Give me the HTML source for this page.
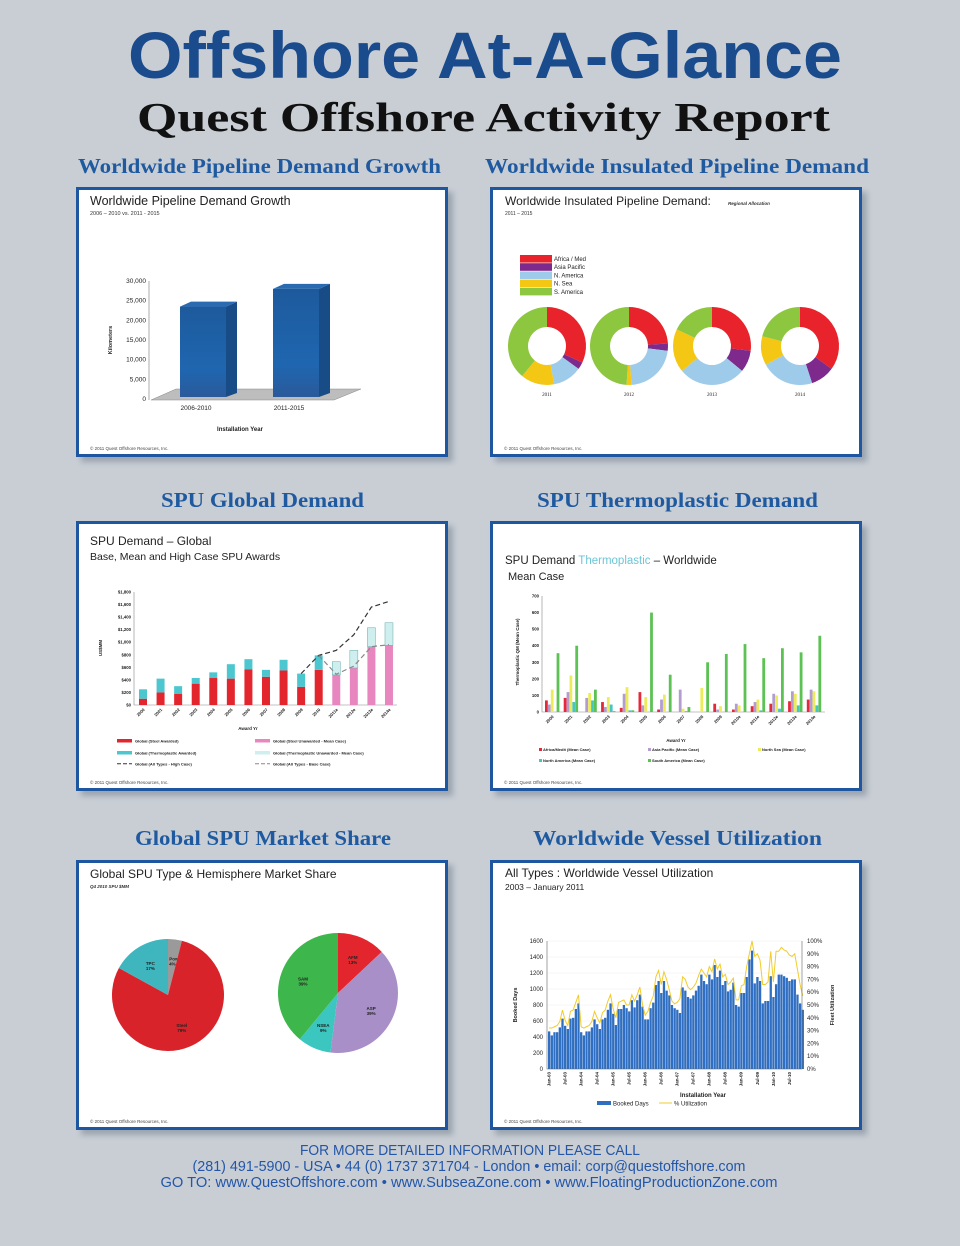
<!DOCTYPE html>
<html><head><meta charset="utf-8"><title>Offshore At-A-Glance</title>
<style>html,body{margin:0;padding:0;background:#c9ced5;}svg{display:block;}</style></head>
<body>
<svg id="page" xmlns="http://www.w3.org/2000/svg" width="960" height="1246" viewBox="0 0 960 1246" font-family="Liberation Sans, sans-serif">
<defs>
<linearGradient id="barBlue" x1="0" y1="0" x2="0" y2="1"><stop offset="0" stop-color="#1d5a9c"/><stop offset="0.7" stop-color="#1f66b0"/><stop offset="1" stop-color="#2a5a9a"/></linearGradient>
<filter id="sh" x="-5%" y="-5%" width="110%" height="110%"><feGaussianBlur stdDeviation="3"/></filter>
</defs>
<rect width="960" height="1246" fill="#c9ced5"/>
<text x="128" y="78" font-size="66" font-weight="bold" fill="#1a4b8c" textLength="714" lengthAdjust="spacingAndGlyphs">Offshore At-A-Glance</text>
<text x="137" y="131" font-family="Liberation Serif, serif" font-size="41" font-weight="bold" fill="#111" textLength="693" lengthAdjust="spacingAndGlyphs">Quest Offshore Activity Report</text>

<g font-family="Liberation Serif, serif" font-weight="bold" fill="#1f5aa0" font-size="21">
<text x="78" y="173" textLength="363" lengthAdjust="spacingAndGlyphs">Worldwide Pipeline Demand Growth</text>
<text x="485" y="173" textLength="384" lengthAdjust="spacingAndGlyphs">Worldwide Insulated Pipeline Demand</text>
<text x="161" y="507" textLength="203" lengthAdjust="spacingAndGlyphs">SPU Global Demand</text>
<text x="537" y="507" textLength="281" lengthAdjust="spacingAndGlyphs">SPU Thermoplastic Demand</text>
<text x="135" y="845" textLength="256" lengthAdjust="spacingAndGlyphs">Global SPU Market Share</text>
<text x="533" y="845" textLength="289" lengthAdjust="spacingAndGlyphs">Worldwide Vessel Utilization</text>
</g>

<g id="panels"></g>
<g id="charts" font-family="Liberation Sans, sans-serif"></g>

<g fill="#2356a8" font-size="14.5" text-anchor="middle">
<text x="470" y="1155" textLength="340" lengthAdjust="spacingAndGlyphs">FOR MORE DETAILED INFORMATION PLEASE CALL</text>
<text x="469" y="1171" textLength="553" lengthAdjust="spacingAndGlyphs">(281) 491-5900 - USA  •  44 (0) 1737 371704 - London  •  email: corp@questoffshore.com</text>
<text x="469" y="1187" textLength="617" lengthAdjust="spacingAndGlyphs">GO TO:  www.QuestOffshore.com •  www.SubseaZone.com  •  www.FloatingProductionZone.com</text>
</g>
</svg>
<script>
// ---------- DATA ----------
const pipeCats = ['2006-2010', '2011-2015'];
const pipeVals = [23500, 28000];
const pipeTicks = [0, 5000, 10000, 15000, 20000, 25000, 30000];

const donutYears = ['2011', '2012', '2013', '2014'];
const donutRegions = ['Africa / Med', 'Asia Pacific', 'N. America', 'N. Sea', 'S. America'];
const donut2011 = [32, 3, 12, 14, 39];
const donut2012 = [24, 3, 22, 2, 49];
const donut2013 = [27, 9, 28, 18, 18];
const donut2014 = [35, 10, 22, 12, 21];

const spuCats = ['2000','2001','2002','2003','2004','2005','2006','2007','2008','2009','2010','2011e','2012e','2013e','2014e'];
const spuSteel = [100, 200, 180, 340, 430, 420, 570, 450, 550, 290, 560, 0, 0, 0, 0];
const spuThermo = [150, 220, 120, 90, 90, 230, 160, 110, 170, 210, 230, 0, 0, 0, 0];
const spuSteelUn = [0, 0, 0, 0, 0, 0, 0, 0, 0, 0, 0, 480, 590, 930, 950];
const spuThermoUn = [0, 0, 0, 0, 0, 0, 0, 0, 0, 0, 0, 210, 280, 300, 360];
const spuHigh = [null, null, null, null, null, null, null, null, null, 500, 790, 870, 1120, 1560, 1650];
const spuBase = [null, null, null, null, null, null, null, null, null, null, 790, 490, 620, 930, 960];
const spuTicks = [0, 200, 400, 600, 800, 1000, 1200, 1400, 1600, 1800];

const tpCats = ['2000','2001','2002','2003','2004','2005','2006','2007','2008','2009','2010e','2011e','2012e','2013e','2014e'];
const tpAfrica = [70, 85, 0, 60, 25, 120, 15, 0, 0, 50, 15, 35, 50, 65, 75];
const tpAsia = [45, 120, 85, 30, 110, 40, 75, 135, 0, 15, 50, 60, 110, 125, 135];
const tpNSea = [135, 220, 115, 90, 150, 90, 105, 20, 145, 35, 40, 75, 100, 110, 125];
const tpNAm = [0, 60, 70, 45, 10, 0, 0, 5, 0, 0, 0, 10, 20, 40, 40];
const tpSAm = [355, 400, 135, 5, 10, 600, 225, 30, 300, 350, 410, 325, 385, 360, 460];
const tpTicks = [0, 100, 200, 300, 400, 500, 600, 700];

const typeLabels = ['SS Power', 'Steel', 'TPC'];
const typeShares = [4, 79, 17];
const hemiLabels = ['AFM', 'ASP', 'NSEA', 'SAM'];
const hemiShares = [13, 39, 9, 39];

const vesselLabels = ['Jan-03','Jul-03','Jan-04','Jul-04','Jan-05','Jul-05','Jan-06','Jul-06','Jan-07','Jul-07','Jan-08','Jul-08','Jan-09','Jul-09','Jan-10','Jul-10'];
const bookedDays = [
 470,420,460,460,520,630,540,500,630,640,750,820,
 460,420,470,470,520,620,560,500,620,640,740,820,
 690,550,750,750,800,760,720,860,770,860,930,780,
 620,620,760,830,1050,1100,950,1100,980,920,800,760,
 740,700,1020,980,900,880,920,980,1040,1180,1100,1060,
 1180,1120,1300,1150,1230,1050,1100,970,990,1080,800,780,
 950,950,1150,1370,1480,1070,1150,1100,820,850,850,1160,
 900,1060,1180,1180,1160,1140,1100,1120,1120,930,820,740];
const utilization = [
 32,32,33,34,37,46,38,34,45,46,52,58,
 33,32,33,34,37,45,40,36,44,46,53,58,
 47,40,52,53,54,50,50,58,53,58,64,50,
 42,45,52,57,72,77,66,76,70,62,53,51,
 52,55,72,70,64,62,64,67,73,78,75,72,
 80,76,86,78,82,72,74,66,68,71,54,54,
 65,66,80,90,100,88,90,85,66,66,68,92,
 68,92,92,95,93,92,89,88,90,78,66,57];
const vesselTicks = [0, 200, 400, 600, 800, 1000, 1200, 1400, 1600];
const utilTicks = [0, 10, 20, 30, 40, 50, 60, 70, 80, 90, 100];

// ---------- HELPERS ----------
const NS = 'http://www.w3.org/2000/svg';
function mk(parent, tag, attrs, txt) {
  const el = document.createElementNS(NS, tag);
  for (const k in attrs) el.setAttribute(k, attrs[k]);
  if (txt !== undefined) el.textContent = txt;
  parent.appendChild(el);
  return el;
}
const P = document.getElementById('panels');
const C = document.getElementById('charts');
function fmt(n) { return n.toString().replace(/\B(?=(\d{3})+(?!\d))/g, ','); }
function arcPath(cx, cy, r0, r1, a0, a1) {
  const rad = a => (a - 90) * Math.PI / 180;
  const large = (a1 - a0) > 180 ? 1 : 0;
  const p = (r, a) => [cx + r * Math.cos(rad(a)), cy + r * Math.sin(rad(a))];
  const [x1, y1] = p(r1, a0), [x2, y2] = p(r1, a1);
  if (r0 === 0) return `M${cx},${cy}L${x1},${y1}A${r1},${r1} 0 ${large} 1 ${x2},${y2}Z`;
  const [x3, y3] = p(r0, a1), [x4, y4] = p(r0, a0);
  return `M${x1},${y1}A${r1},${r1} 0 ${large} 1 ${x2},${y2}L${x3},${y3}A${r0},${r0} 0 ${large} 0 ${x4},${y4}Z`;
}

// ---------- PANELS ----------
const panelBoxes = [[76,187,'pipeline'],[490,187,'insulated'],[76,521,'spu-global'],[490,521,'spu-thermo'],[76,860,'market-share'],[490,860,'vessel']];
panelBoxes.forEach(b => {
  let s = mk(P, 'rect', {x: b[0]+5, y: b[1]+5, width: 372, height: 270, fill: '#7d8896', opacity: 0.6, filter: 'url(#sh)'});
  
  
  let r = mk(P, 'rect', {x: b[0]+1.5, y: b[1]+1.5, width: 369, height: 267, fill: '#fff', stroke: '#1e56a0', 'stroke-width': 3});
  
  
  let c = mk(C, 'text', {x: b[0]+14, y: b[1]+263, 'font-size': 4.5, fill: '#444'}, '© 2011 Quest Offshore Resources, Inc.');
  
  
});

// ---------- CHART 1: PIPELINE ----------
(function(){
  const g = mk(C, 'g', {});
  
  
  let t = mk(g, 'text', {x: 90, y: 205, 'font-size': 12.5, fill: '#222'}, 'Worldwide Pipeline Demand Growth');
  
  
  t = mk(g, 'text', {x: 90, y: 215, 'font-size': 5.5, fill: '#333'}, '2006 – 2010 vs. 2011 - 2015');
  
  
  const y = v => 399 - v / 30000 * 118;
  let fl = mk(g, 'polygon', {points: '151,400 334,400 361,389 176,389', fill: '#bdbdbd', stroke: '#888', 'stroke-width': 0.5});
  
  
  let ax = mk(g, 'line', {x1: 149, y1: 281, x2: 149, y2: 400, stroke: '#888', 'stroke-width': 0.7});
  
  
  pipeTicks.forEach(v => {
    let tl = mk(g, 'text', {x: 146, y: y(v) + 2, 'font-size': 6.5, 'text-anchor': 'end', fill: '#222'}, fmt(v));
    
    
  });
  const centers = [203, 296];
  pipeCats.forEach((c, i) => {
    const x0 = centers[i] - 23, x1 = centers[i] + 23, top = y(pipeVals[i]), bot = 397;
    let side = mk(g, 'polygon', {points: `${x1},${bot} ${x1+11},${bot-4} ${x1+11},${top-5} ${x1},${top}`, fill: '#174c86'});
    
    
    let tp = mk(g, 'polygon', {points: `${x0},${top} ${x0+11},${top-5} ${x1+11},${top-5} ${x1},${top}`, fill: '#2a6ab0'});
    
    
    let b = mk(g, 'rect', {x: x0, y: top, width: 46, height: bot - top, fill: 'url(#barBlue)'});
    
    
    let l = mk(g, 'text', {x: centers[i] - 7, y: 410, 'font-size': 6.5, 'text-anchor': 'middle', fill: '#222'}, c);
    
    
  });
  let xt = mk(g, 'text', {x: 240, y: 431, 'font-size': 6, 'font-weight': 'bold', 'text-anchor': 'middle', fill: '#222'}, 'Installation Year');
  
  
  let yt = mk(g, 'text', {x: 0, y: 0, 'font-size': 5.5, 'font-weight': 'bold', 'text-anchor': 'middle', fill: '#222', transform: 'translate(112,340) rotate(-90)'}, 'Kilometers');
  
  
})();

// ---------- CHART 2: DONUTS ----------
(function(){
  const g = mk(C, 'g', {});
  
  
  let t = mk(g, 'text', {x: 505, y: 205, 'font-size': 12, fill: '#222'}, 'Worldwide Insulated Pipeline Demand:');
  
  
  t = mk(g, 'text', {x: 728, y: 205, 'font-size': 4.5, 'font-style': 'italic', 'font-weight': 'bold', fill: '#333'}, 'Regional Allocation');
  
  
  t = mk(g, 'text', {x: 505, y: 215, 'font-size': 5, fill: '#333'}, '2011 – 2015');
  
  
  const cols = ['#e8232b', '#7d2a8c', '#9fcbeb', '#f5c715', '#8dc63f'];
  donutRegions.forEach((r, i) => {
    let s = mk(g, 'rect', {x: 520, y: 255 + i * 8.2, width: 32, height: 7.6, fill: cols[i]});
    
    
    let l = mk(g, 'text', {x: 554, y: 261 + i * 8.2, 'font-size': 6, fill: '#222'}, r);
    
    
  });
  const sets = [donut2011, donut2012, donut2013, donut2014];
  const cxs = [547, 629, 712, 800];
  sets.forEach((vals, j) => {
    const tot = vals.reduce((a, b) => a + b, 0);
    let a = 0;
    vals.forEach((v, i) => {
      const a1 = a + v / tot * 360;
      if (v > 0) {
        let p = mk(g, 'path', {d: arcPath(cxs[j], 346, 19, 39, a, a1 - 0.01), fill: cols[i]});
        
        
      }
      a = a1;
    });
    let l = mk(g, 'text', {x: cxs[j], y: 396, 'font-size': 5, 'font-family': 'Liberation Serif, serif', 'text-anchor': 'middle', fill: '#222'}, donutYears[j]);
    
    
  });
})();

// ---------- CHART 3: SPU GLOBAL ----------
(function(){
  const g = mk(C, 'g', {});
  
  
  let t = mk(g, 'text', {x: 90, y: 545, 'font-size': 12, fill: '#222'}, 'SPU Demand – Global');
  
  
  t = mk(g, 'text', {x: 90, y: 560, 'font-size': 10.5, fill: '#222'}, 'Base, Mean and High Case SPU Awards');
  
  
  const y = v => 705 - v / 1800 * 113;
  const x = i => 143 + i * 17.57;
  let ax = mk(g, 'polyline', {points: '134,592 134,705 397,705', fill: 'none', stroke: '#888', 'stroke-width': 0.6});
  
  
  spuTicks.forEach(v => {
    let l = mk(g, 'text', {x: 131, y: y(v) + 1.5, 'font-size': 4.3, 'font-weight': 'bold', 'text-anchor': 'end', fill: '#222'}, '$' + fmt(v));
    
    
  });
  spuCats.forEach((c, i) => {
    const w = 8, x0 = x(i) - w / 2;
    const s = spuSteel[i] + spuSteelUn[i];
    const th = spuThermo[i] + spuThermoUn[i];
    if (spuSteel[i]) { let b = mk(g, 'rect', {x: x0, y: y(spuSteel[i]), width: w, height: y(0) - y(spuSteel[i]), fill: '#e3262e'});   }
    if (spuSteelUn[i]) { let b = mk(g, 'rect', {x: x0, y: y(spuSteelUn[i]), width: w, height: y(0) - y(spuSteelUn[i]), fill: '#e887bf'});   }
    if (spuThermo[i]) { let b = mk(g, 'rect', {x: x0, y: y(s + spuThermo[i]), width: w, height: y(s) - y(s + spuThermo[i]), fill: '#4cc6cf'});   }
    if (spuThermoUn[i]) { let b = mk(g, 'rect', {x: x0, y: y(s + spuThermoUn[i]), width: w, height: y(s) - y(s + spuThermoUn[i]), fill: '#cfeeee', stroke: '#6aa', 'stroke-width': 0.5});   }
    let l = mk(g, 'text', {x: 0, y: 0, 'font-size': 4.2, 'font-weight': 'bold', 'text-anchor': 'end', fill: '#222', transform: `translate(${x(i) + 2},${710}) rotate(-45)`}, c);
    
    
  });
  function line(arr, col, name) {
    const pts = [];
    arr.forEach((v, i) => { if (v !== null) pts.push(x(i) + ',' + y(v)); });
    let p = mk(g, 'polyline', {points: pts.join(' '), fill: 'none', stroke: col, 'stroke-width': 1.2, 'stroke-dasharray': '5,3'});
    
    
  }
  line(spuHigh, '#333', 'line-high-case');
  line(spuBase, '#888', 'line-base-case');
  let xt = mk(g, 'text', {x: 248, y: 730, 'font-size': 4.5, 'font-weight': 'bold', 'text-anchor': 'middle', fill: '#222'}, 'Award Yr');
  
  
  let yt = mk(g, 'text', {x: 0, y: 0, 'font-size': 4.5, 'font-weight': 'bold', 'text-anchor': 'middle', fill: '#222', transform: 'translate(102,648) rotate(-90)'}, 'US$MM');
  
  
  const leg = [[117,742,'#e3262e','Global (Steel Awarded)','r'],[255,742,'#e887bf','Global (Steel Unawarded - Mean Case)','r'],[117,754,'#4cc6cf','Global (Thermoplastic Awarded)','r'],[255,754,'#cfeeee','Global (Thermoplastic Unawarded - Mean Case)','r'],[117,765,'#333','Global (All Types - High Case)','l'],[255,765,'#888','Global (All Types - Base Case)','l']];
  leg.forEach(L => {
    let s = L[4] === 'r' ? mk(g, 'rect', {x: L[0], y: L[1] - 3, width: 15, height: 3.5, fill: L[2]}) : mk(g, 'line', {x1: L[0], y1: L[1] - 1.3, x2: L[0] + 15, y2: L[1] - 1.3, stroke: L[2], 'stroke-dasharray': '4,2'});
    
    
    let l = mk(g, 'text', {x: L[0] + 18, y: L[1] + 0.5, 'font-size': 4, 'font-weight': 'bold', fill: '#222'}, L[3]);
    
    
  });
})();

// ---------- CHART 4: THERMOPLASTIC ----------
(function(){
  const g = mk(C, 'g', {});
  
  
  let t = mk(g, 'text', {x: 505, y: 564, 'font-size': 11.5, fill: '#222'});
  
  
  mk(t, 'tspan', {}, 'SPU Demand ');
  mk(t, 'tspan', {fill: '#6cc6d6'}, 'Thermoplastic');
  mk(t, 'tspan', {}, ' – Worldwide');
  t = mk(g, 'text', {x: 508, y: 580, 'font-size': 11, fill: '#222'}, 'Mean Case');
  
  
  const y = v => 712 - v / 700 * 116;
  const gx = i => 545 + i * 18.7;
  let ax = mk(g, 'polyline', {points: '542,596 542,712 825,712', fill: 'none', stroke: '#888', 'stroke-width': 0.6});
  
  
  tpTicks.forEach(v => {
    let l = mk(g, 'text', {x: 539, y: y(v) + 1.5, 'font-size': 4.3, 'font-weight': 'bold', 'text-anchor': 'end', fill: '#222'}, v);
    
    
  });
  const series = [tpAfrica, tpAsia, tpNSea, tpNAm, tpSAm];
  const cols = ['#e5283a', '#b39dd0', '#ecec5a', '#46c5c4', '#5dc254'];
  const names = ['africa', 'asia', 'north-sea', 'north-america', 'south-america'];
  tpCats.forEach((c, i) => {
    series.forEach((s, k) => {
      if (s[i] > 0) {
        let b = mk(g, 'rect', {x: gx(i) + k * 2.9, y: y(s[i]), width: 2.8, height: y(0) - y(s[i]), fill: cols[k]});
        
        
      }
    });
    let l = mk(g, 'text', {x: 0, y: 0, 'font-size': 4.2, 'font-weight': 'bold', 'text-anchor': 'end', fill: '#222', transform: `translate(${gx(i) + 9},${717}) rotate(-45)`}, c);
    
    
  });
  let xt = mk(g, 'text', {x: 676, y: 742, 'font-size': 4.5, 'font-weight': 'bold', 'text-anchor': 'middle', fill: '#222'}, 'Award Yr');
  
  
  let yt = mk(g, 'text', {x: 0, y: 0, 'font-size': 4.5, 'font-weight': 'bold', 'text-anchor': 'middle', fill: '#222', transform: 'translate(519,652) rotate(-90)'}, 'Thermoplastic QM (Mean Case)');
  
  
  const leg = [[539,751,0,'Africa/Medit (Mean Case)'],[648,751,1,'Asia Pacific (Mean Case)'],[758,751,2,'North Sea (Mean Case)'],[539,762,3,'North America (Mean Case)'],[648,762,4,'South America (Mean Case)']];
  leg.forEach(L => {
    let s = mk(g, 'rect', {x: L[0], y: L[1] - 3, width: 3, height: 3, fill: cols[L[2]]});
    
    
    let l = mk(g, 'text', {x: L[0] + 4, y: L[1], 'font-size': 4, 'font-weight': 'bold', fill: '#222'}, L[3]);
    
    
  });
})();

// ---------- CHART 5: PIES ----------
(function(){
  const g = mk(C, 'g', {});
  
  
  let t = mk(g, 'text', {x: 90, y: 878, 'font-size': 12, fill: '#222'}, 'Global SPU Type & Hemisphere Market Share');
  
  
  t = mk(g, 'text', {x: 90, y: 888, 'font-size': 4.5, 'font-style': 'italic', 'font-weight': 'bold', fill: '#333'}, 'Q4 2010 SPU $MM');
  
  
  function pie(cx, cy, r, labels, vals, cols, name) {
    const tot = vals.reduce((a, b) => a + b, 0);
    let a = 0;
    vals.forEach((v, i) => {
      const a1 = a + v / tot * 360;
      let p = mk(g, 'path', {d: arcPath(cx, cy, 0, r, a, a1), fill: cols[i]});
      
      
      const m = ((a + a1) / 2 - 90) * Math.PI / 180;
      const lx = cx + Math.cos(m) * r * 0.62, ly = cy + Math.sin(m) * r * 0.62;
      let l = mk(g, 'text', {x: lx, y: ly, 'font-size': 4.5, 'font-weight': 'bold', 'text-anchor': 'middle', fill: '#222'});
      
      
      mk(l, 'tspan', {x: lx, dy: 0}, labels[i]);
      mk(l, 'tspan', {x: lx, dy: 5}, v + '%');
      a = a1;
    });
  }
  pie(168, 995, 56, typeLabels, typeShares, ['#9a9a9a', '#d8232a', '#3fb5be'], 'type-pie');
  pie(338, 993, 60, hemiLabels, hemiShares, ['#e3262e', '#a98fc8', '#3cc6c0', '#3db64c'], 'hemisphere-pie');
})();

// ---------- CHART 6: VESSEL UTILIZATION ----------
(function(){
  const g = mk(C, 'g', {});
  
  
  let t = mk(g, 'text', {x: 505, y: 877, 'font-size': 12, fill: '#222'}, 'All Types : Worldwide Vessel Utilization');
  
  
  t = mk(g, 'text', {x: 505, y: 890, 'font-size': 8.5, fill: '#222'}, '2003 – January 2011');
  
  
  const y = v => 1069 - v / 1600 * 128;
  const yu = p => 1069 - p / 100 * 128;
  const x = i => 548 + i * 2.67;
  vesselTicks.forEach(v => {
    let gl = mk(g, 'line', {x1: 547, y1: y(v), x2: 802, y2: y(v), stroke: '#eee', 'stroke-width': 0.5});
    
    
    let l = mk(g, 'text', {x: 543, y: y(v) + 2, 'font-size': 6, 'text-anchor': 'end', fill: '#222'}, v);
    
    
  });
  utilTicks.forEach(v => {
    let l = mk(g, 'text', {x: 807, y: yu(v) + 2, 'font-size': 6, fill: '#222'}, v + '%');
    
    
  });
  bookedDays.forEach((v, i) => {
    let b = mk(g, 'rect', {x: x(i), y: y(v), width: 2.3, height: y(0) - y(v), fill: '#2f6ec0'});
    
    
  });
  let ln = mk(g, 'polyline', {points: utilization.map((p, i) => (x(i) + 1.1) + ',' + yu(p)).join(' '), fill: 'none', stroke: '#f2cc2a', 'stroke-width': 1});
  
  
  let ax = mk(g, 'polyline', {points: '547,941 547,1069 802,1069 802,941', fill: 'none', stroke: '#666', 'stroke-width': 0.6});
  
  
  vesselLabels.forEach((c, i) => {
    let l = mk(g, 'text', {x: 0, y: 0, 'font-size': 4.5, 'font-weight': 'bold', 'text-anchor': 'end', fill: '#222', transform: `translate(${x(i * 6) + 2.5},${1072}) rotate(-90)`}, c);
    
    
  });
  let xt = mk(g, 'text', {x: 703, y: 1097, 'font-size': 6, 'font-weight': 'bold', 'text-anchor': 'middle', fill: '#222'}, 'Installation Year');
  
  
  let yt = mk(g, 'text', {x: 0, y: 0, 'font-size': 5.5, 'font-weight': 'bold', 'text-anchor': 'middle', fill: '#222', transform: 'translate(517,1005) rotate(-90)'}, 'Booked Days');
  
  
  let yt2 = mk(g, 'text', {x: 0, y: 0, 'font-size': 5.5, 'font-weight': 'bold', 'text-anchor': 'middle', fill: '#222', transform: 'translate(834,1005) rotate(-90)'}, 'Fleet Utilization');
  
  
  let s1 = mk(g, 'rect', {x: 597, y: 1101, width: 14, height: 4, fill: '#2f6ec0'});
  
  
  let l1 = mk(g, 'text', {x: 613, y: 1105.5, 'font-size': 6, fill: '#222'}, 'Booked Days');
  
  
  let s2 = mk(g, 'line', {x1: 659, y1: 1103, x2: 672, y2: 1103, stroke: '#f2cc2a', 'stroke-width': 1});
  
  
  let l2 = mk(g, 'text', {x: 674, y: 1105.5, 'font-size': 6, fill: '#222'}, '% Utilization');
  
  
})();
</script>
</body></html>
